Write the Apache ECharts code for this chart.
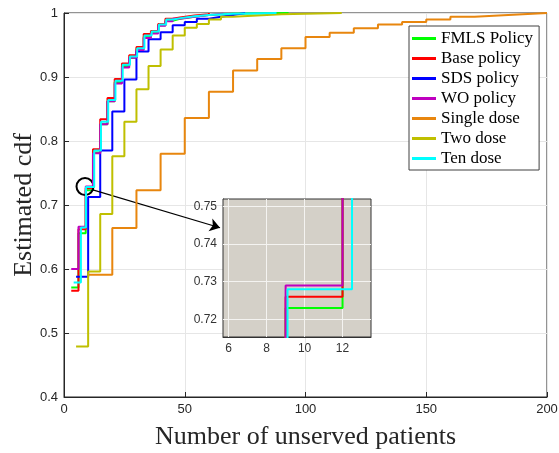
<!DOCTYPE html>
<html>
<head>
<meta charset="utf-8">
<script src="https://cdn.jsdelivr.net/npm/echarts@6/dist/echarts.min.js"></script>
<style>
html, body { margin: 0; padding: 0; background: #fff; }
#chart { width: 559px; height: 453px; }
</style>
</head>
<body>
<div id="chart"></div>
<script>
// ecdf steps: x where the cdf jumps, y the new level
var fmlsX = [3, 6, 9, 12, 15, 18, 21, 24, 27, 30, 33, 36, 39, 42, 45, 48, 54, 60, 70, 93];
var fmlsY = [0.571, 0.656, 0.723, 0.782, 0.826, 0.862, 0.892, 0.917, 0.930, 0.944, 0.963, 0.970, 0.981, 0.988, 0.991, 0.994, 0.997, 0.999, 1.0, 1.0];
var baseX = [3, 6, 9, 12, 15, 18, 21, 24, 27, 30, 33, 36, 39, 42, 45, 48, 54, 60];
var baseY = [0.566, 0.662, 0.726, 0.787, 0.834, 0.867, 0.897, 0.921, 0.934, 0.947, 0.967, 0.972, 0.983, 0.991, 0.993, 0.996, 0.998, 1.0];
var sdsX = [5, 10, 15, 20, 25, 30, 35, 40, 45, 50, 55, 60, 65, 70, 75];
var sdsY = [0.588, 0.7125, 0.785, 0.846, 0.896, 0.940, 0.959, 0.970, 0.981, 0.986, 0.991, 0.994, 0.997, 1.0, 1.0];
var woX = [3, 6, 9, 12, 15, 18, 21, 24, 27, 30, 33, 36, 39, 42, 45, 48, 54, 60, 66];
var woY = [0.600, 0.666, 0.729, 0.781, 0.826, 0.862, 0.890, 0.915, 0.930, 0.942, 0.961, 0.968, 0.980, 0.987, 0.991, 0.994, 0.997, 0.999, 1.0];
var singleX = [10, 20, 30, 40, 50, 60, 70, 80, 90, 100, 110, 120, 130, 140, 150, 160, 170, 180, 190, 200];
var singleY = [0.591, 0.664, 0.723, 0.780, 0.836, 0.877, 0.910, 0.928, 0.945, 0.9625, 0.969, 0.976, 0.982, 0.986, 0.990, 0.994, 0.996, 0.998, 1.0, 1.0];
var twoX = [5, 10, 15, 20, 25, 30, 35, 40, 45, 50, 55, 60, 65, 70, 80, 90, 100, 115];
var twoY = [0.479, 0.596, 0.686, 0.776, 0.830, 0.881, 0.917, 0.943, 0.965, 0.977, 0.983, 0.990, 0.994, 0.996, 0.998, 0.999, 1.0, 1.0];
var tenX = [4, 7, 9.1, 12.5, 15.3, 18.3, 21.3, 24.3, 27.3, 30.3, 33.3, 36.3, 39.3, 42.3, 45.3, 48.3, 54, 60, 70, 88];
var tenY = [0.579, 0.665, 0.728, 0.785, 0.830, 0.864, 0.894, 0.919, 0.932, 0.945, 0.965, 0.971, 0.982, 0.990, 0.992, 0.995, 0.997, 0.999, 1.0, 1.0];

var names = ['FMLS Policy', 'Base policy', 'SDS policy', 'WO policy', 'Single dose', 'Two dose', 'Ten dose'];
var colors = ['#00ff00', '#ff0000', '#0000ff', '#bf00bf', '#e8860e', '#bfbf00', '#00ffff'];
var insetXTicks = [6, 8, 10, 12];
var insetYTicks = [0.72, 0.73, 0.74, 0.75];

function pairs(xs, ys) {
	var out = [];
	for (var i = 0; i < xs.length; i++) out.push([xs[i], ys[i]]);
	return out;
}

var allData = [pairs(fmlsX, fmlsY), pairs(baseX, baseY), pairs(sdsX, sdsY), pairs(woX, woY),
	pairs(singleX, singleY), pairs(twoX, twoY), pairs(tenX, tenY)];

var serif = 'Liberation Serif';
var sans = 'Liberation Sans';

var series = [];
for (var i = 0; i < names.length; i++) {
	series.push({
		name: names[i],
		type: 'line',
		step: 'end',
		data: allData[i],
		showSymbol: false,
		symbol: 'none',
		color: colors[i],
		lineStyle: { width: 2, color: colors[i] },
		animation: false,
		z: 2 + i
	});
}
// circle + arrow pointing at the zoomed box
series[6].markPoint = {
	silent: true,
	symbol: 'circle',
	symbolSize: 17,
	itemStyle: { color: 'rgba(0,0,0,0)', borderColor: '#000', borderWidth: 2 },
	label: { show: false },
	data: [{ coord: [8.7, 0.729] }]
};
series[6].markLine = {
	silent: true,
	symbol: ['none', 'arrow'],
	symbolSize: 10,
	lineStyle: { color: '#000', width: 1.2, type: 'solid' },
	label: { show: false },
	data: [[{ coord: [11.6, 0.724] }, { coord: [64.6, 0.6645] }]]
};

// grid lines of the inset (its ticks don't start at min), drawn as segments
var insetGrid = [];
insetXTicks.forEach(function(v) { insetGrid.push([{ coord: [v, 0.7153] }, { coord: [v, 0.752] }]); });
insetYTicks.forEach(function(v) { insetGrid.push([{ coord: [5.7, v] }, { coord: [13.5, v] }]); });

// inset copies
[0, 1, 3, 6].forEach(function(k, j) {
	var s = {
		name: names[k],
		type: 'line',
		step: 'end',
		data: allData[k],
		xAxisIndex: 1,
		yAxisIndex: 1,
		showSymbol: false,
		symbol: 'none',
		color: colors[k],
		lineStyle: { width: 2, color: colors[k] },
		clip: true,
		animation: false,
		z: 20 + k
	};
	if (j == 0) {
		s.markLine = {
			silent: true,
			z: 15,
			symbol: ['none', 'none'],
			label: { show: false },
			lineStyle: { color: '#f4f3f1', width: 1, type: 'solid', opacity: 1 },
			data: insetGrid
		};
	}
	series.push(s);
});

var chart = echarts.init(document.getElementById('chart'));
var option = {
	backgroundColor: '#fff',
	animation: false,
	legend: {
		data: names,
		orient: 'vertical',
		left: 409,
		top: 26,
		width: 135,
		padding: [4, 6, 3, 3],
		itemGap: 3,
		icon: 'rect',
		itemWidth: 24,
		itemHeight: 3,
		backgroundColor: '#fff',
		borderColor: '#404040',
		borderWidth: 1,
		textStyle: { fontFamily: serif, fontSize: 17, color: '#000' }
	},
	grid: [{
		left: 64, right: 12, top: 13, bottom: 56,
		outerBoundsMode: 'none',
		show: true, borderColor: '#262626', borderWidth: 1, backgroundColor: '#fff'
	}, {
		left: 223, top: 199, width: 148, height: 138,
		outerBoundsMode: 'none',
		show: true, borderColor: '#333', borderWidth: 1, backgroundColor: '#d4d0c8', z: 10
	}],
	xAxis: [{
		type: 'value', gridIndex: 0, min: 0, max: 200, interval: 50,
		name: 'Number of unserved patients', nameLocation: 'middle', nameGap: 27,
		nameMoveOverlap: false,
		nameTextStyle: { fontFamily: serif, fontSize: 26, color: '#262626' },
		axisLine: { lineStyle: { color: '#262626' } },
		axisTick: { inside: true, length: 5, lineStyle: { color: '#262626' } },
		axisLabel: { fontFamily: sans, fontSize: 13, color: '#262626', margin: 6 },
		splitLine: { lineStyle: { color: '#e6e6e6' } }
	}, {
		type: 'value', gridIndex: 1, min: 5.7, max: 13.5,
		axisLine: { lineStyle: { color: '#333' } },
		axisTick: { inside: true, length: 3, customValues: insetXTicks, lineStyle: { color: '#333' } },
		axisLabel: { fontFamily: sans, fontSize: 12, color: '#333', margin: 6, customValues: insetXTicks },
		splitLine: { show: false }
	}],
	yAxis: [{
		type: 'value', gridIndex: 0, min: 0.4, max: 1, interval: 0.1,
		name: 'Estimated cdf', nameLocation: 'middle', nameGap: 27,
		nameMoveOverlap: false,
		nameTextStyle: { fontFamily: serif, fontSize: 26, color: '#262626' },
		axisLine: { show: true, lineStyle: { color: '#262626' } },
		axisTick: { show: true, inside: true, length: 5, lineStyle: { color: '#262626' } },
		axisLabel: {
			fontFamily: sans, fontSize: 13, color: '#262626', margin: 6,
			formatter: function(v) { return String(+v.toFixed(1)); }
		},
		splitLine: { lineStyle: { color: '#e6e6e6' } }
	}, {
		type: 'value', gridIndex: 1, min: 0.7153, max: 0.752,
		axisLine: { show: true, lineStyle: { color: '#333' } },
		axisTick: { show: true, inside: true, length: 3, customValues: insetYTicks, lineStyle: { color: '#333' } },
		axisLabel: {
			fontFamily: sans, fontSize: 12, color: '#333', margin: 6, customValues: insetYTicks,
			formatter: function(v) { return v.toFixed(2); }
		},
		splitLine: { show: false }
	}],
	series: series
};
chart.setOption(option);
</script>
</body>
</html>
